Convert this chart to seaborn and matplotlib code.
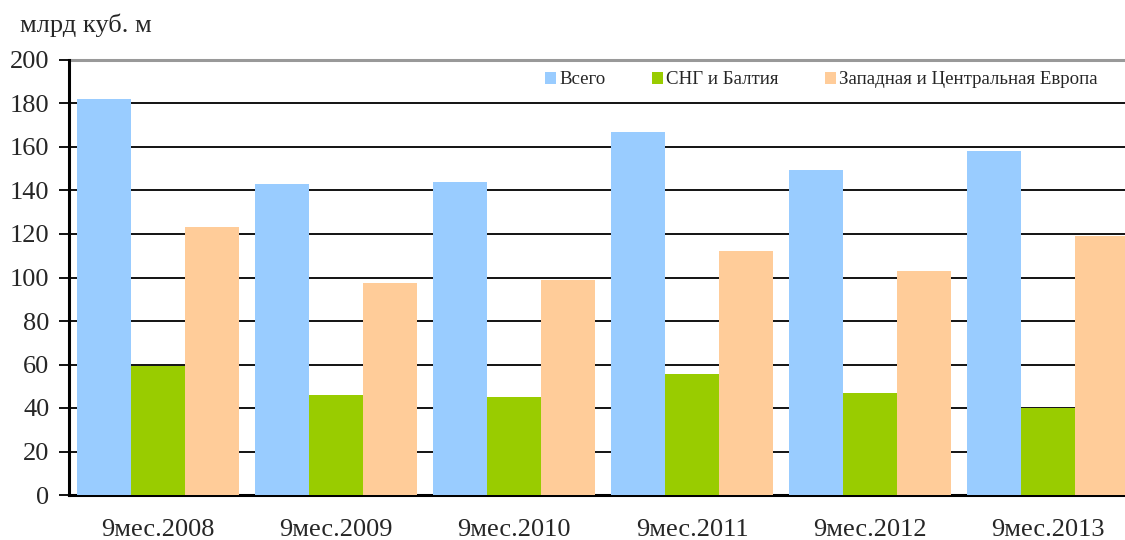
import pandas as pd
import numpy as np
import matplotlib
matplotlib.use("Agg")
import matplotlib.pyplot as plt
import seaborn as sns

periods = ["9мес.2008", "9мес.2009", "9мес.2010", "9мес.2011", "9мес.2012", "9мес.2013"]
series_names = ["Всего", "СНГ и Балтия", "Западная и Центральная Европа"]
vsego = [182, 143, 144, 167, 149.5, 158]
sng = [59.5, 46, 45, 55.5, 47, 40]
evropa = [123, 97.5, 99, 112, 103, 119]
colors = ["#99CCFF", "#99CC00", "#FFCC99"]
y_ticks = [0, 20, 40, 60, 80, 100, 120, 140, 160, 180, 200]

df = pd.DataFrame({
    "period": periods * 3,
    "series": [series_names[0]] * 6 + [series_names[1]] * 6 + [series_names[2]] * 6,
    "value": vsego + sng + evropa,
})

sns.set_style("white")
plt.rcParams["font.family"] = ["Liberation Serif", "DejaVu Serif"]

fig = plt.figure(figsize=(11.25, 5.4), dpi=100)
ax = fig.add_axes([69 / 1125, 45 / 540, 1068 / 1125, 435 / 540])

sns.barplot(data=df, x="period", y="value", hue="series", order=periods,
            hue_order=series_names, palette=colors, width=0.91,
            saturation=1, linewidth=0, ax=ax, zorder=3, legend=True)

ax.set_xlim(-0.5, 5.5)
ax.set_ylim(0, 200)
ax.set_yticks(y_ticks)
ax.set_yticklabels([str(v) for v in y_ticks], fontsize=19)
for v in y_ticks[1:-1]:
    ax.axhline(v, color="black", lw=1.3, zorder=1)
ax.axhline(200, color="#999999", lw=2.2, zorder=1, clip_on=False)

ax.set_xticks(range(len(periods)))
ax.set_xticklabels(periods, fontsize=19)
ax.set_xticks(np.arange(-0.5, 6, 1), minor=True)
ax.tick_params(axis="x", which="major", length=0, pad=17)
ax.tick_params(axis="x", which="minor", length=6, width=1.3, color="black", direction="out")
ax.tick_params(axis="y", length=7, width=1.3, color="black", direction="out", left=True, pad=7)
ax.set_xlabel("")
ax.set_ylabel("")

for side in ["top", "right"]:
    ax.spines[side].set_visible(False)
for side in ["left", "bottom"]:
    ax.spines[side].set_color("black")
    ax.spines[side].set_linewidth(2.2)

handles, labels = ax.get_legend_handles_labels()
ax.get_legend().remove()
leg = fig.legend(handles, labels, ncol=3, loc="center left",
                 bbox_to_anchor=(545 / 1125, 1 - 80 / 540),
                 fontsize=13.6, frameon=False, borderpad=0, borderaxespad=0,
                 handlelength=0.6, handleheight=0.6, handletextpad=0.15,
                 columnspacing=2.45)

fig.text(20 / 1125, 1 - 25 / 540, "млрд куб. м", fontsize=19, va="center", ha="left")

fig.savefig("out.png", dpi=100)
